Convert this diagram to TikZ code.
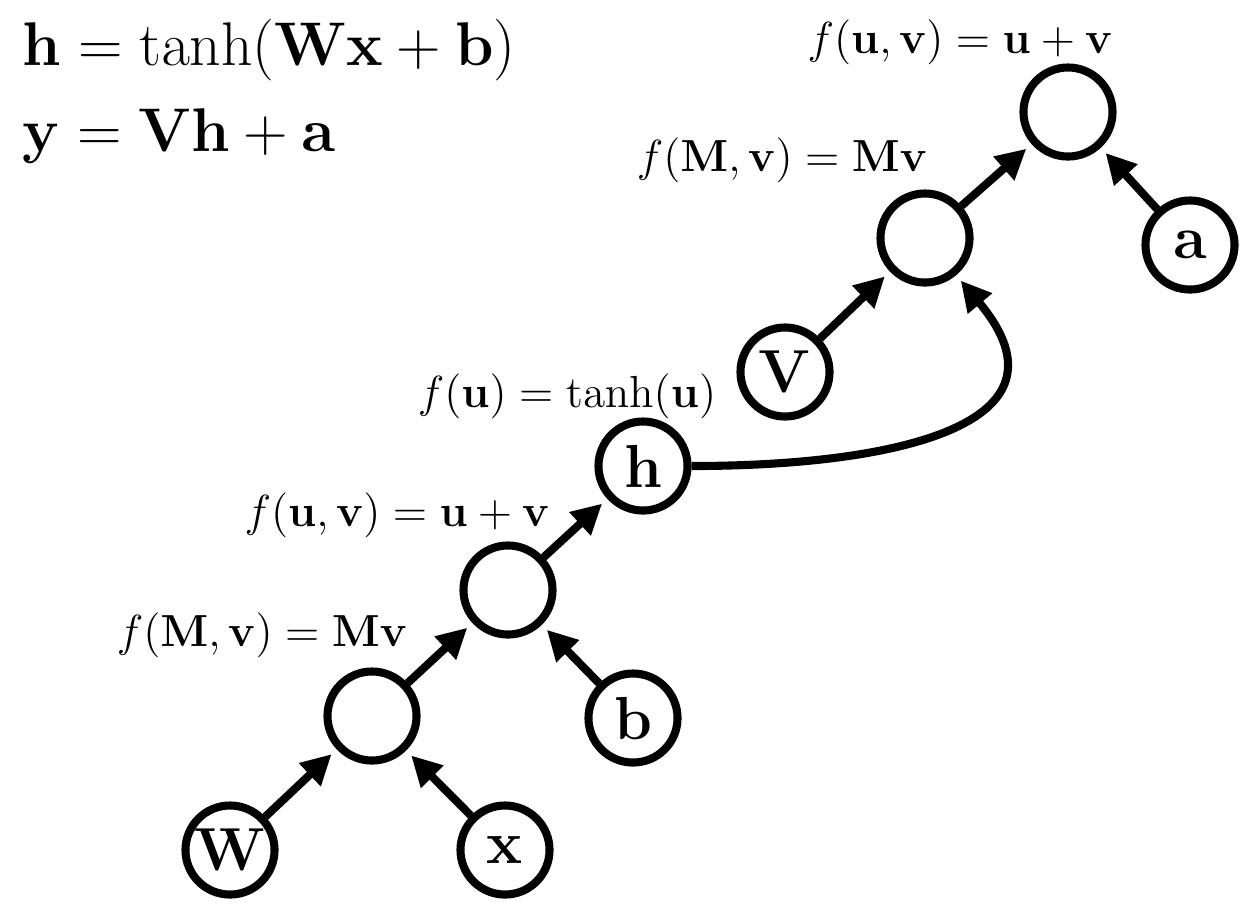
\documentclass[tikz,border=0pt]{standalone}
\usepackage{amssymb,amsmath}
\usepackage{tikz}
\usetikzlibrary{arrows.meta,calc,positioning}

\begin{document}
\begin{tikzpicture}[x=0.01cm,y=-0.01cm,>={Triangle[length=0.3cm,width=0.3cm]},shorten >=2pt,
		var/.style={circle,draw,line width=2.3pt,minimum size=0.89cm,inner sep=0pt,font=\fontsize{19}{23}\selectfont},
		op/.style={var},
		fn/.style={inner sep=0pt,scale=1.065,font=\large},
		eqn/.style={inner sep=0pt,anchor=west,scale=1.015,font=\LARGE}]
			\useasboundingbox (0,0) rectangle (1258,917);
			% equations
			\node[eqn] (eq_h) at (22,50) {$\mathbf{h}=\tanh(\mathbf{W}\mathbf{x}+\mathbf{b})$};
			\node[eqn] (eq_y) at (22,136) {$\mathbf{y}=\mathbf{V}\mathbf{h}+\mathbf{a}$};
			% graph
			\node[var] (W) at (230,850) {$\mathbf{W}$};
			\node[var] (x) at (505,850) {$\mathbf{x}$};
			\node[op] (mv_1) at (372,716) {};
			\node[var] (b) at (633,718) {$\mathbf{b}$};
			\node[op] (add_1) at (508,590) {};
			\node[var] (h) at (643,466) {$\mathbf{h}$};
			\node[var] (V) at (785,372) {$\mathbf{V}$};
			\node[op] (mv_2) at (925,238) {};
			\node[var] (a) at (1190,245) {$\mathbf{a}$};
			\node[op] (add_2) at (1068,112) {};
			% functions
			\node[fn] (f_mv_1) at (262,635) {$f(\mathbf{M},\mathbf{v})=\mathbf{M}\mathbf{v}$};
			\node[fn] (f_add_1) at (397,515) {$f(\mathbf{u},\mathbf{v})=\mathbf{u}+\mathbf{v}$};
			\node[fn] (f_tanh) at (567,396) {$f(\mathbf{u})=\tanh(\mathbf{u})$};
			\node[fn] (f_mv_2) at (782,160) {$f(\mathbf{M},\mathbf{v})=\mathbf{M}\mathbf{v}$};
			\node[fn] (f_add_2) at (960,42) {$f(\mathbf{u},\mathbf{v})=\mathbf{u}+\mathbf{v}$};
			\path[->,line width=2.3pt]
				(W) edge (mv_1)
				(x) edge (mv_1)
				(mv_1) edge (add_1)
				(b) edge (add_1)
				(add_1) edge (h)
				(V) edge (mv_2)
				(h.east) edge [out=0,in=-50,looseness=1.55] (mv_2)
				(mv_2) edge (add_2)
				(a) edge (add_2);
		\end{tikzpicture}
\end{document}
